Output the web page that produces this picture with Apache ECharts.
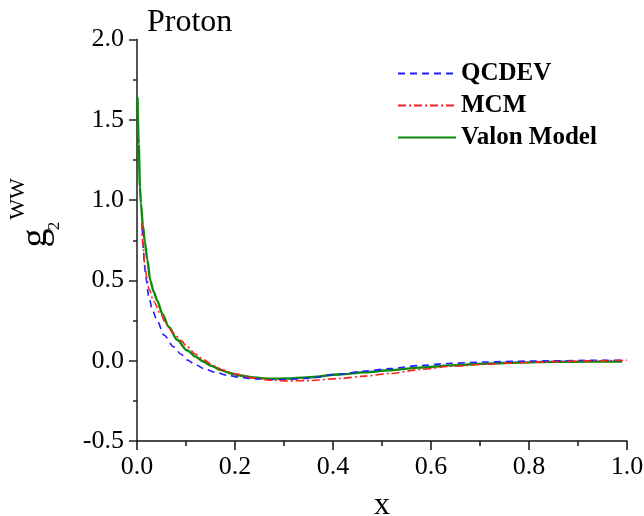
<!DOCTYPE html>
<html>
<head>
<meta charset="utf-8">
<style>html,body{margin:0;padding:0;background:#fff;}#c{width:644px;height:516px;}</style>
<script src="https://cdn.jsdelivr.net/npm/echarts@6/dist/echarts.min.js"></script>
</head>
<body>
<div id="c"></div>
<script>
// Data
const seriesNames = ['QCDEV', 'MCM', 'Valon Model'];

const qcdevX = [0.011,0.013,0.015,0.018,0.024,0.032,0.041,0.055,0.075,0.09,0.102,0.12,0.136,0.16,0.184,0.21,0.238,0.278,0.306,0.346,0.414,0.465,0.516,0.578,0.64,0.714,0.78,0.849,0.93,0.99];
const qcdevY = [0.82,0.70,0.60,0.52,0.40,0.31,0.25,0.16,0.086,0.04,0.005,-0.025,-0.049,-0.072,-0.09,-0.104,-0.113,-0.119,-0.117,-0.110,-0.083,-0.065,-0.049,-0.030,-0.016,-0.008,-0.003,-0.001,0.003,0.002];

const mcmX = [0.0095,0.012,0.016,0.020,0.024,0.034,0.048,0.06,0.075,0.09,0.102,0.12,0.136,0.155,0.177,0.2,0.238,0.27,0.306,0.35,0.414,0.465,0.516,0.578,0.64,0.714,0.78,0.849,0.92,1.0];
const mcmY = [0.86,0.72,0.59,0.52,0.45,0.37,0.29,0.225,0.17,0.125,0.088,0.04,0.005,-0.03,-0.059,-0.082,-0.108,-0.121,-0.126,-0.124,-0.111,-0.096,-0.080,-0.055,-0.035,-0.022,-0.012,-0.006,-0.001,0.003];

const valonX = [0.001,0.0035,0.006,0.008,0.012,0.016,0.021,0.027,0.034,0.041,0.052,0.065,0.082,0.102,0.12,0.135,0.152,0.17,0.19,0.21,0.238,0.27,0.306,0.346,0.414,0.465,0.516,0.578,0.64,0.714,0.78,0.849,0.92,0.99];
const valonY = [1.64,1.35,1.08,0.98,0.84,0.74,0.63,0.50,0.43,0.375,0.29,0.21,0.13,0.065,0.025,-0.005,-0.032,-0.057,-0.078,-0.092,-0.105,-0.112,-0.111,-0.104,-0.086,-0.072,-0.059,-0.043,-0.029,-0.018,-0.011,-0.007,-0.006,-0.006];

const xTicks = [0.0, 0.2, 0.4, 0.6, 0.8, 1.0];
const yTicks = [-0.5, 0.0, 0.5, 1.0, 1.5, 2.0];

const zip = (xs, ys) => xs.map((x, i) => [x, ys[i]]);

const serif = '"Liberation Serif", "DejaVu Serif", serif';
const chart = echarts.init(document.getElementById('c'), null, {renderer: 'canvas'});

chart.setOption({
  animation: false,
  backgroundColor: '#fff',
  title: {
    text: 'Proton', left: 142, top: 2,
    textStyle: {fontFamily: serif, fontSize: 32, fontWeight: 'normal', color: '#000'}
  },
  legend: {
    orient: 'vertical', left: 397, top: 61, itemGap: 7, padding: 0,
    itemWidth: 58, itemHeight: 14,
    itemStyle: {opacity: 0, borderWidth: 0},
    data: seriesNames,
    textStyle: {fontFamily: serif, fontSize: 25, fontWeight: 'bold', color: '#000'}
  },
  grid: {left: 137, right: 17, top: 39.5, bottom: 75, containLabel: false, outerBoundsMode: 'none'},
  xAxis: {
    type: 'value', min: xTicks[0], max: xTicks[xTicks.length - 1], interval: 0.2,
    axisLine: {show: true, onZero: false, lineStyle: {color: '#111', width: 1.5}},
    axisTick: {show: true, inside: false, length: 9, lineStyle: {color: '#111', width: 1.5}},
    minorTick: {show: true, splitNumber: 2, length: 5, lineStyle: {color: '#111', width: 1.5}},
    splitLine: {show: false},
    axisLabel: {margin: 13, fontFamily: serif, fontSize: 26, color: '#000', formatter: v => v.toFixed(1)},
    name: 'x', nameLocation: 'middle', nameGap: 49,
    nameTextStyle: {fontFamily: serif, fontSize: 32, color: '#000'}
  },
  yAxis: {
    type: 'value', min: yTicks[0], max: yTicks[yTicks.length - 1], interval: 0.5,
    axisLine: {show: true, onZero: false, lineStyle: {color: '#555', width: 2}},
    axisTick: {show: true, inside: false, length: 8, lineStyle: {color: '#222', width: 1.5}},
    minorTick: {show: true, splitNumber: 2, length: 4, lineStyle: {color: '#222', width: 1.5}},
    splitLine: {show: false},
    axisLabel: {margin: 13, fontFamily: serif, fontSize: 26, color: '#000', formatter: v => v.toFixed(1)}
  },
  graphic: [
    {type: 'text', x: 36, y: 238, rotation: Math.PI / 2,
     style: {text: 'g', fontFamily: serif, fontSize: 38, fill: '#000', textAlign: 'center', textVerticalAlign: 'middle'}},
    {type: 'text', x: 55, y: 226, rotation: Math.PI / 2,
     style: {text: '2', fontFamily: serif, fontSize: 17, fill: '#000', textAlign: 'center', textVerticalAlign: 'middle'}},
    {type: 'text', x: 18, y: 199, rotation: Math.PI / 2,
     style: {text: 'WW', fontFamily: serif, fontSize: 22, fill: '#000', textAlign: 'center', textVerticalAlign: 'middle'}}
  ],
  series: [
    {name: seriesNames[0], type: 'line', data: zip(qcdevX, qcdevY), showSymbol: false, symbol: 'none',
     smooth: 0.3, smoothMonotone: 'x', z: 3,
     lineStyle: {color: '#1f1fff', width: 1.6, type: [7, 5]}, itemStyle: {color: '#1f1fff'}},
    {name: seriesNames[1], type: 'line', data: zip(mcmX, mcmY), showSymbol: false, symbol: 'none',
     smooth: 0.3, smoothMonotone: 'x', z: 4,
     lineStyle: {color: '#ff2020', width: 1.6, type: [8, 3, 2, 3]}, itemStyle: {color: '#ff2020'}},
    {name: seriesNames[2], type: 'line', data: zip(valonX, valonY), showSymbol: false, symbol: 'none',
     smooth: 0.3, smoothMonotone: 'x', z: 2,
     lineStyle: {color: '#0a8a0a', width: 2.4, type: 'solid'}, itemStyle: {color: '#0a8a0a'}}
  ]
});
</script>
</body>
</html>
